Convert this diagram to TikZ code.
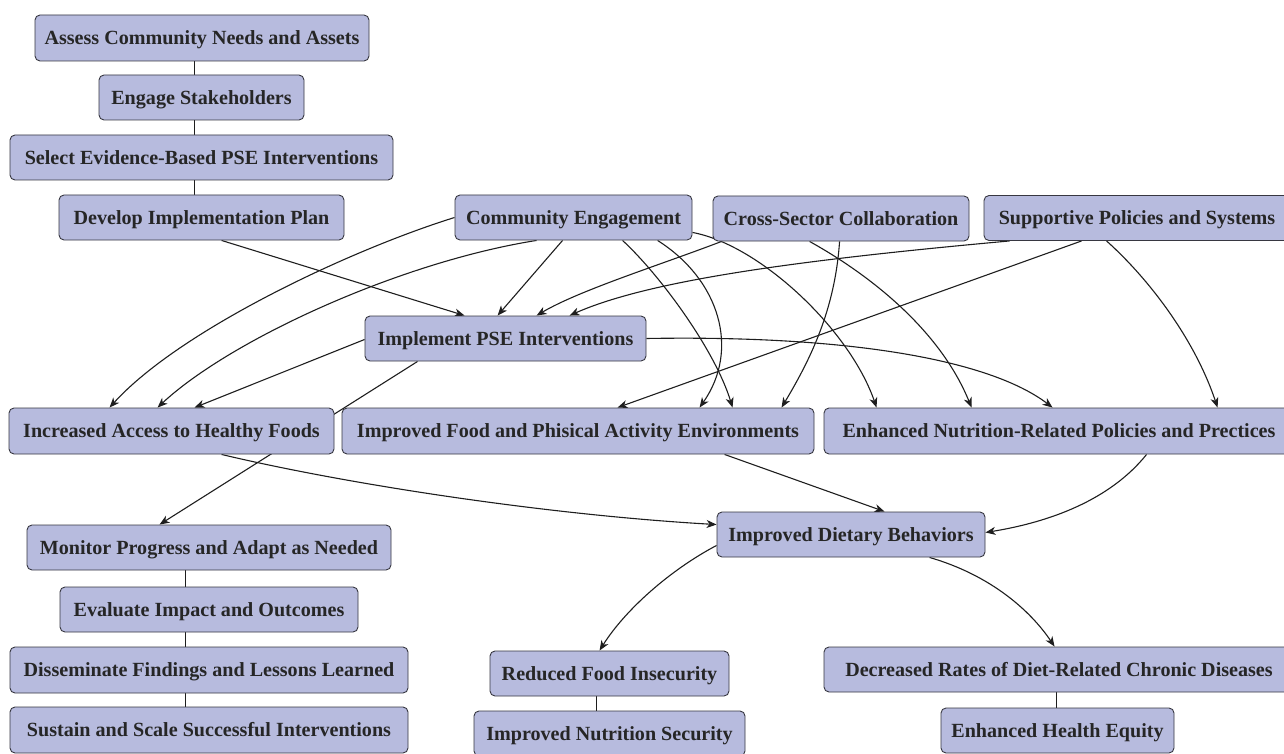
\documentclass[tikz,border=0pt]{standalone}
\usepackage{fontspec}
\setmainfont{Liberation Serif}
\usetikzlibrary{calc,arrows.meta}
\pgfdeclarelayer{bg}
\pgfsetlayers{bg,main}
\definecolor{boxfill}{RGB}{183,187,222}
\definecolor{boxline}{RGB}{55,55,65}
\definecolor{edgecol}{RGB}{30,30,30}
\begin{document}
\begin{tikzpicture}[x=1pt,y=-1pt,
  box/.style={draw=boxline,fill=boxfill,line width=0.9pt,rounded corners=5pt,
    inner sep=0pt,text height=13.8pt,text depth=0.4pt,
    font=\fontsize{20.1}{22}\selectfont\bfseries,text=black!85},
  link/.style={draw=edgecol,line width=1.1pt},
  arr/.style={link,-{Stealth[length=10pt,width=8pt,inset=3pt]}}]
\useasboundingbox (0,0) rectangle (1284,754);
% nodes
\node[box,minimum width=334pt,minimum height=46pt] (A1) at (202,38) {Assess Community Needs and Assets};
\node[box,minimum width=205pt,minimum height=45pt] (A2) at (201.5,97.5) {Engage Stakeholders};
\node[box,minimum width=383pt,minimum height=45pt] (A3) at (201.5,157.5) {Select Evidence-Based PSE Interventions};
\node[box,minimum width=285pt,minimum height=45pt] (A4) at (201.5,217.5) {Develop Implementation Plan};
\node[box,minimum width=237pt,minimum height=45pt] (CE) at (573.5,217.5) {Community Engagement};
\node[box,minimum width=256pt,minimum height=45pt] (CS) at (841,218.5) {Cross-Sector Collaboration};
\node[box,minimum width=306pt,minimum height=45pt] (SP) at (1137,218) {Supportive Policies and Systems};
\node[box,minimum width=281pt,minimum height=45pt] (IP) at (505.5,338.5) {Implement PSE Interventions};
\node[box,minimum width=325pt,minimum height=46pt] (IA) at (171.5,431) {Increased Access to Healthy Foods};
\node[box,minimum width=472pt,minimum height=46pt] (IF) at (578,431) {Improved Food and Phisical Activity Environments};
\node[box,minimum width=470pt,minimum height=46pt] (EN) at (1059,431) {Enhanced Nutrition-Related Policies and Prectices};
\node[box,minimum width=268pt,minimum height=45pt] (DB) at (851,534.5) {Improved Dietary Behaviors};
\node[box,minimum width=364pt,minimum height=45pt] (MP) at (209,547.5) {Monitor Progress and Adapt as Needed};
\node[box,minimum width=298pt,minimum height=45pt] (EI) at (209,609.5) {Evaluate Impact and Outcomes};
\node[box,minimum width=398pt,minimum height=46pt] (DF) at (209,670) {Disseminate Findings and Lessons Learned};
\node[box,minimum width=398pt,minimum height=46pt] (SS) at (209,730) {Sustain and Scale Successful Interventions};
\node[box,minimum width=239pt,minimum height=45pt] (RF) at (609.5,673.5) {Reduced Food Insecurity};
\node[box,minimum width=271pt,minimum height=45pt] (IN) at (609.5,733.5) {Improved Nutrition Security};
\node[box,minimum width=470pt,minimum height=45pt] (DR) at (1059,669.5) {Decreased Rates of Diet-Related Chronic Diseases};
\node[box,minimum width=233pt,minimum height=45pt] (HE) at (1057.5,730.5) {Enhanced Health Equity};
% edges
\begin{pgfonlayer}{bg}
% plain links
\draw[link] ($(A1.south west)+(160,0)$) -- ($(A2.north west)+(96,0)$);
\draw[link] ($(A2.south west)+(96,0)$) -- ($(A3.north west)+(185,0)$);
\draw[link] ($(A3.south west)+(185,0)$) -- ($(A4.north west)+(136,0)$);
\draw[link] ($(MP.south west)+(159,0)$) -- ($(EI.north west)+(126,0)$);
\draw[link] ($(EI.south west)+(126,0)$) -- ($(DF.north west)+(176,0)$);
\draw[link] ($(DF.south west)+(176,0)$) -- ($(SS.north west)+(176,0)$);
\draw[link] ($(RF.south west)+(107,0)$) -- ($(IN.north west)+(123,0)$);
\draw[link] ($(DR.south west)+(233,0)$) -- ($(HE.north west)+(116,0)$);
% into IP
\draw[arr] ($(A4.south west)+(163,0)$) -- ($(IP.north west)+(100,0)$);
\draw[arr] ($(CE.south west)+(108,0)$) -- ($(IP.north west)+(133,0)$);
\draw[arr] ($(CS.south west)+(9,0)$) .. controls (660,265) and (580,290) .. ($(IP.north west)+(172,0)$);
\draw[arr] ($(SP.south west)+(26,0)$) .. controls (800,260) and (650,280) .. ($(IP.north west)+(205,0)$);
% into IA
\draw[arr] (CE.west) .. controls (350,250) and (180,330) .. ($(IA.north west)+(101,0)$);
\draw[arr] ($(CE.south west)+(82,0)$) .. controls (400,262) and (230,340) .. ($(IA.north west)+(149,0)$);
\draw[arr] ($(IP.west)+(0,1)$) -- ($(IA.north west)+(186,0)$);
% IP to MP (passes under IA)
\draw[arr] ($(IP.south west)+(53,0)$) -- ($(MP.north west)+(133,0)$);
% into IF
\draw[arr] ($(CE.south west)+(168,0)$) .. controls (660,275) and (715,350) .. ($(IF.north west)+(391,0)$);
\draw[arr] ($(CE.south west)+(203,0)$) .. controls (720,280) and (740,350) .. ($(IF.north west)+(358,0)$);
\draw[arr] ($(CS.south west)+(127,0)$) .. controls (835,310) and (810,360) .. ($(IF.north west)+(440,0)$);
\draw[arr] ($(SP.south west)+(98,0)$) -- ($(IF.north west)+(276,0)$);
% into EN
\draw[arr] ($(CE.south east)+(0,-8)$) .. controls (760,245) and (850,330) .. ($(EN.north west)+(53,0)$);
\draw[arr] ($(CS.south west)+(97,0)$) .. controls (870,275) and (940,330) .. ($(EN.north west)+(148,0)$);
\draw[arr] (IP.east) .. controls (850,335) and (990,360) .. ($(EN.north west)+(229,0)$);
\draw[arr] ($(SP.south west)+(123,0)$) .. controls (1150,280) and (1195,340) .. ($(EN.north west)+(394,0)$);
% into DB
\draw[arr] ($(IA.south west)+(213,0)$) .. controls (350,485) and (550,515) .. ($(DB.north west)+(0,13)$);
\draw[arr] ($(IF.south west)+(383,0)$) -- ($(DB.north west)+(168,0)$);
\draw[arr] ($(EN.south west)+(323,0)$) .. controls (1110,500) and (1050,522) .. ($(DB.east)+(0,-2)$);
% from DB
\draw[arr] ($(DB.south west)+(0,-12)$) .. controls (670,570) and (625,610) .. ($(RF.north west)+(110,0)$);
\draw[arr] ($(DB.south west)+(213,0)$) .. controls (990,575) and (1030,610) .. ($(DR.north west)+(231,0)$);
\end{pgfonlayer}
\end{tikzpicture}
\end{document}
